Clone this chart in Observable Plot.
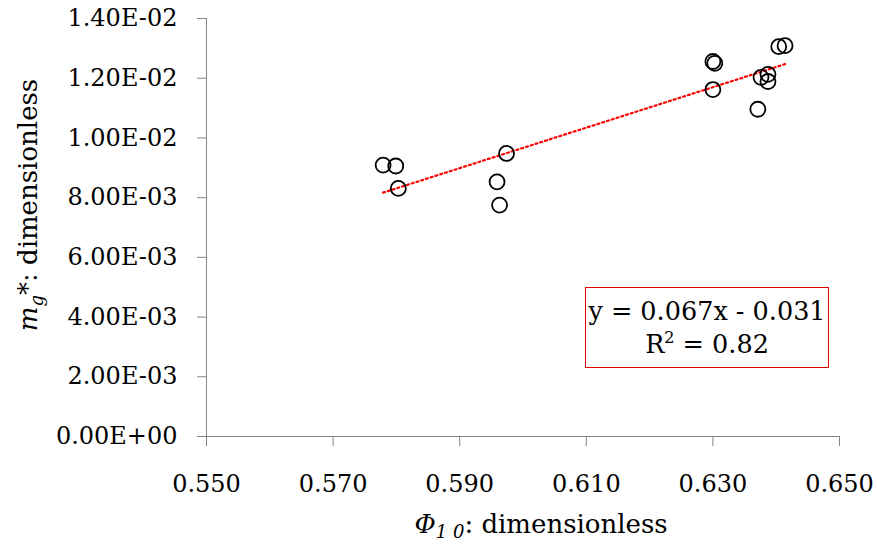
<!DOCTYPE html>
<html>
<head>
<meta charset="utf-8">
<script src="https://cdn.jsdelivr.net/npm/d3@7"></script>
<script src="https://cdn.jsdelivr.net/npm/@observablehq/plot@0.6"></script>
<style>
  html, body { margin: 0; padding: 0; background: #fff; }
  #wrap { position: relative; width: 877px; height: 544px; font-family: "DejaVu Serif", serif; }
  #eq { position: absolute; left: 585px; top: 287px; width: 244px; height: 81px; border: 1.5px solid #e00000; box-sizing: border-box;
        text-align: center; font-size: 25.5px; line-height: 33px; padding-top: 7px; color: #000; background: #fff; white-space: nowrap; }
</style>
</head>
<body>
<div id="wrap"></div>
<script>
// Φ10 values
const phi10 = [0.5779, 0.5799, 0.5803, 0.5974, 0.5959, 0.5963, 0.6300, 0.6303, 0.6300, 0.6371, 0.6376, 0.6387, 0.6387, 0.6404, 0.6414];
// mg* values
const mg = [0.00909, 0.00906, 0.00831, 0.00948, 0.00853, 0.00775, 0.01256, 0.01250, 0.01162, 0.01096, 0.01203, 0.01213, 0.01189, 0.01306, 0.01309];
const xTicks = [0.55, 0.57, 0.59, 0.61, 0.63, 0.65];
const yTicks = [0, 0.002, 0.004, 0.006, 0.008, 0.010, 0.012, 0.014];
const equationText = "y = 0.067x - 0.031";
const r2Text = "0.82";

const data = phi10.map((x, i) => ({x, y: mg[i]}));

function sci(d) {
  if (d === 0) return "0.00E+00";
  let e = Math.floor(Math.log10(Math.abs(d)) + 1e-9);
  let m = d / Math.pow(10, e);
  const s = e < 0 ? "-" : "+";
  return m.toFixed(2) + "E" + s + String(Math.abs(e)).padStart(2, "0");
}

const axisColor = "#868686";
const chart = Plot.plot({
  width: 877,
  height: 544,
  marginLeft: 206,
  marginRight: 38,
  marginTop: 18,
  marginBottom: 108,
  style: { fontFamily: "DejaVu Serif, serif", fontSize: "24px", color: "#000", background: "#fff" },
  x: { domain: [0.55, 0.65], ticks: xTicks, tickFormat: d => d.toFixed(3), label: null },
  y: { domain: [0, 0.014], ticks: yTicks, tickFormat: sci, label: null },
  marks: [
    Plot.axisX({ ticks: xTicks, tickFormat: d => d.toFixed(3), tickSize: 10, tickPadding: 28, stroke: axisColor, label: null }),
    Plot.axisY({ ticks: yTicks, tickFormat: sci, tickSize: 9, tickPadding: 20, stroke: axisColor, label: null }),
    Plot.ruleX([0.55], { stroke: axisColor, strokeWidth: 1 }),
    Plot.ruleY([0], { stroke: axisColor, strokeWidth: 1 }),
    Plot.linearRegressionY(data, { x: "x", y: "y", ci: 0, stroke: "#ff0000", strokeWidth: 2.2, strokeDasharray: "2,3" }),
    Plot.dot(data, { x: "x", y: "y", r: 7.5, stroke: "#000", strokeWidth: 1.8, fill: "none" })
  ]
});

const wrap = document.getElementById("wrap");
wrap.appendChild(chart);

const svg = d3.select(chart);
// x-axis label
const xl = svg.append("text")
  .attr("x", 541).attr("y", 533)
  .attr("text-anchor", "middle")
  .attr("font-size", 26).attr("fill", "#000");
xl.append("tspan").attr("font-style", "italic").text("Φ");
xl.append("tspan").attr("font-style", "italic").attr("font-size", 18).attr("dy", 5).text("1 0");
xl.append("tspan").attr("dy", -5).text(": dimensionless");

// y-axis label
const yl = svg.append("text")
  .attr("transform", "translate(37,205) rotate(-90)")
  .attr("text-anchor", "middle")
  .attr("font-size", 26).attr("fill", "#000");
yl.append("tspan").attr("font-style", "italic").text("m");
yl.append("tspan").attr("font-style", "italic").attr("font-size", 18).attr("dy", 6).text("g");
yl.append("tspan").attr("dy", -6).text("*: dimensionless");

// regression annotation
const eq = document.createElement("div");
eq.id = "eq";
eq.innerHTML = equationText + "<br>R<sup style='font-size:16px;vertical-align:10px;line-height:0'>2</sup> = " + r2Text;
wrap.appendChild(eq);
</script>
</body>
</html>
